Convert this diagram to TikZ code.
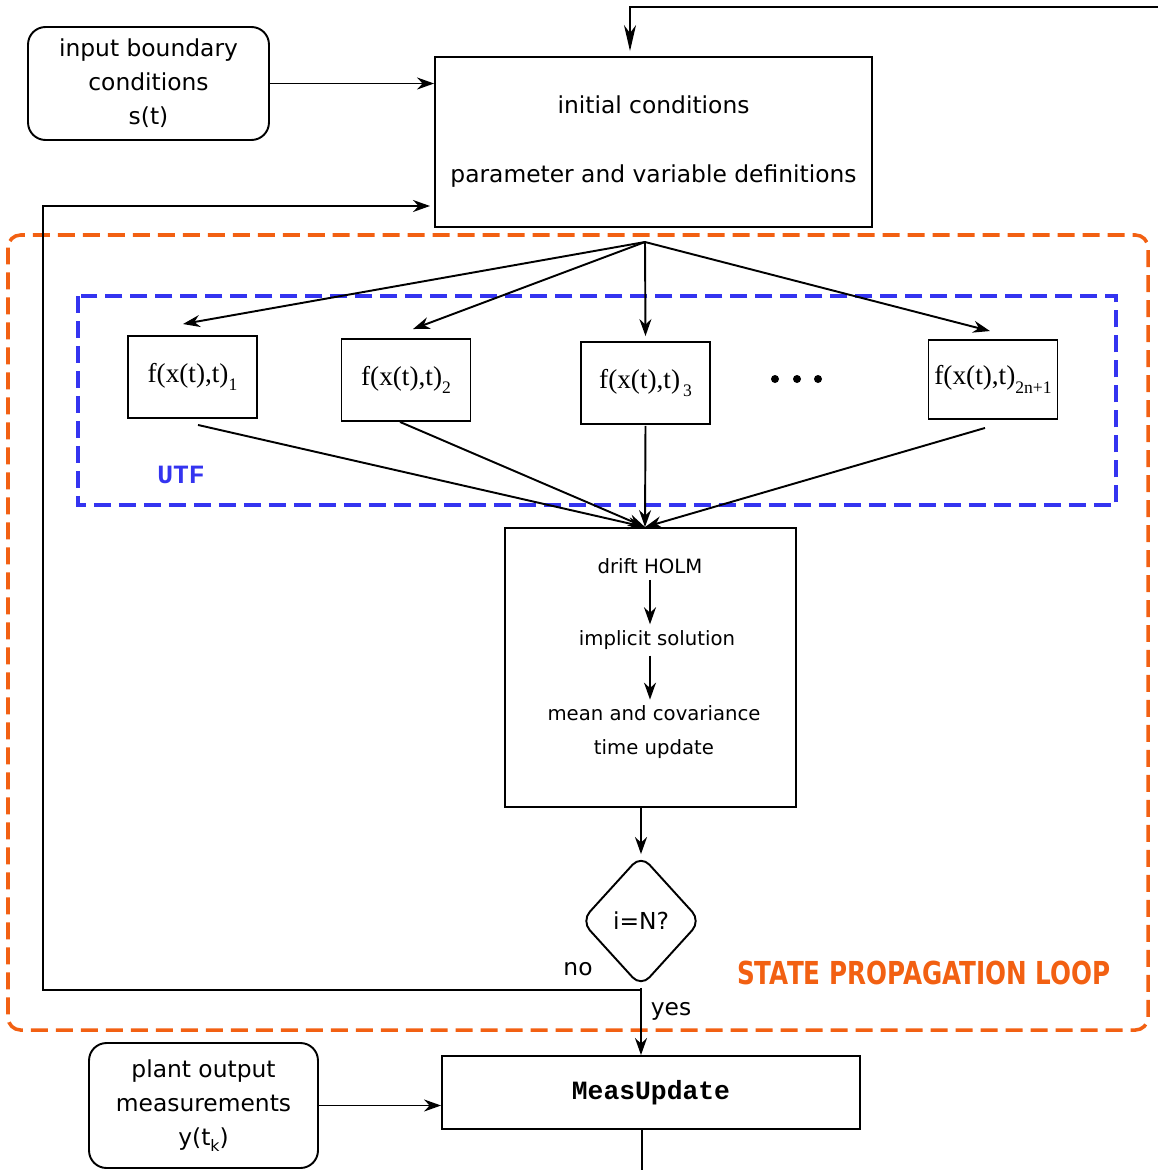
\documentclass[tikz,border=0pt]{standalone}
\usepackage{fontspec}
\setmainfont{DejaVu Sans}
\setmonofont{Liberation Mono}
\newfontfamily\serfont{Liberation Serif}
\newfontfamily\loopfont{DejaVu Sans}[FakeStretch=0.78]
\usetikzlibrary{arrows.meta,positioning,calc,shapes.geometric}
\definecolor{naranja}{RGB}{242,96,18}
\definecolor{azulutf}{RGB}{52,52,240}
% sigma point evaluation f(x(t),t)_i
\newcommand{\fxt}[1]{{\serfont f(x(t),t)\raisebox{-5pt}{\fontsize{10}{10}\selectfont #1}}}

\begin{document}
\begin{tikzpicture}[x=0.02cm,y=-0.02cm,
font=\fontsize{13.3}{19.4}\selectfont,
box/.style={draw,line width=1.1pt,align=center,inner sep=0pt},
rbox/.style={box,rounded corners=0.35cm},
fbox/.style={box,minimum width=2.58cm,minimum height=1.64cm,font=\serfont\fontsize{15.5}{18}\selectfont},
cond/.style={draw,line width=1.1pt,diamond,rounded corners=0.25cm,inner sep=0pt,minimum width=2.4cm,minimum height=2.64cm},
small/.style={font=\fontsize{11.2}{19}\selectfont,align=center},
arr/.style={-{Stealth[length=3.4mm,width=2.4mm]},line width=1.1pt},
frame/.style={dash pattern=on 0.34cm off 0.16cm,line width=2pt}
]
\useasboundingbox (0,0) rectangle (1158,1170);

% loop and UTF frames
\draw[frame,draw=naranja,rounded corners=0.25cm] (8,235) rectangle (1148,1030);
\draw[frame,draw=azulutf,line width=1.8pt] (78,296) rectangle (1116,505);

\node[rbox,minimum width=4.82cm,minimum height=2.26cm] (ibc) at (148.5,83.5) {input boundary\\conditions\\s(t)};
\node[box,minimum width=8.74cm,minimum height=3.4cm] (init) at (653.5,142) {initial conditions\\[19.9pt]parameter and variable definitions};

\node[fbox] (f1) at (192.5,377) {\fxt{1}};
\node[fbox] (f2) at (406,380) {\fxt{2}};
\node[fbox] (f3) at (645.5,383) {\fxt{\,3}};
\node[fbox,minimum height=1.58cm] (fn) at (993,379.5) {\fxt{2n+1}};
\foreach \x in {775,797,818} \fill (\x,379) circle (0.08cm);
\node[font=\ttfamily\bfseries\fontsize{15}{15}\selectfont,text=azulutf] (utf) at (181,475) {UTF};

\node[box,minimum width=5.82cm,minimum height=5.58cm] (holm) at (650.5,667.5) {};
\node[small] (drift) at (650,566) {drift HOLM};
\node[small] (impl) at (657,640) {implicit solution};
\node[small] (mcov) at (654,732) {mean and covariance\\time update};

\node[cond] (chk) at (641,921) {i=N?};
\node (no) at (578,969) {no};
\node (yes) at (671,1011) {yes};
\node[text=naranja,font=\loopfont\bfseries\fontsize{18}{18}\selectfont] (loop) at (924,973) {STATE PROPAGATION LOOP};

\node[rbox,minimum width=4.58cm,minimum height=2.5cm] (pom) at (203.5,1105.5) {plant output\\measurements\\y(t\raisebox{-3pt}{\fontsize{9}{9}\selectfont k})};
\node[box,minimum width=8.36cm,minimum height=1.46cm,font=\ttfamily\bfseries\fontsize{15}{15}\selectfont] (meas) at (651,1092.5) {MeasUpdate};

\coordinate (fb) at (1158,7);
\coordinate (fan) at (645,242);
\coordinate (split) at (641,990);
\coordinate (ret) at (430,206);
\coordinate (out) at (642,1170);

% inputs of the initialisation block
\draw[-{Stealth[length=5.2mm,width=2.4mm,inset=1.6mm]},line width=1.1pt] (fb) -| ([shift={(-23.5,-5)}]init.north);
\draw[arr] (ibc.east) -- (ibc.east-|init.west);
\draw[arr] (split) -| (43,206) -- (ret);

% sigma points in and out
\foreach \n/\dx/\dy in {f1/-9.5/-11,f2/7/-9,f3/0/-5,fn/-3/-8}
  \draw[arr] (fan) -- ([shift={(\dx,\dy)}]\n.north);
\foreach \n/\dx/\dy in {f1/5.5/6,f2/-6/0,f3/0/1,fn/-8/8}
  \draw[arr] ([shift={(\dx,\dy)}]\n.south) -- ([shift={(-5.5,0)}]holm.north);

\draw[arr,line width=0.9pt] (drift.south) -- (drift.south|-impl.north);
\draw[arr,line width=0.9pt] (drift.south|-impl.south) -- (drift.south|-mcov.north);

\draw[arr] (chk|-holm.south) -- (chk.north);
\draw[arr] (chk.south) -- (chk.south|-meas.north);
\draw[arr] (pom.east) -- (pom.east-|meas.west);
\draw[line width=1.1pt] (meas.south-|out) -- (out);
\end{tikzpicture}
\end{document}
